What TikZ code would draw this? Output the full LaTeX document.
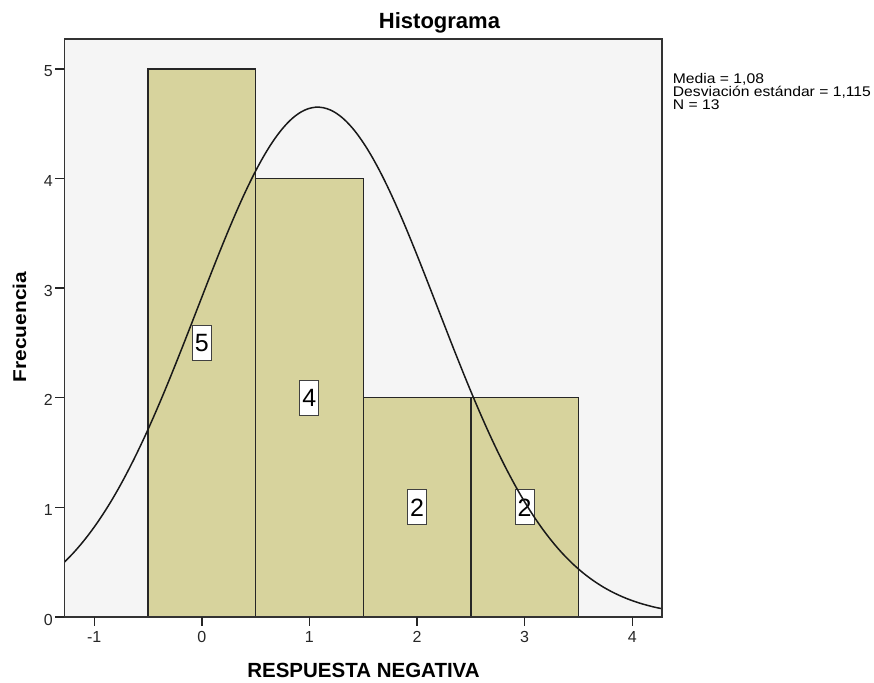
\documentclass[tikz,border=0pt]{standalone}
\usepackage{fontspec}
\setmainfont{Liberation Sans}
\newfontfamily\legendfont[FakeStretch=1.12]{Liberation Sans}
\newfontfamily\ylabfont[FakeStretch=1.13]{Liberation Sans}
\definecolor{barfill}{RGB}{215,211,157}
\definecolor{plotbg}{RGB}{245,245,245}
\begin{document}
\begin{tikzpicture}[x=1pt,y=1pt,
  bar/.style={draw=black!85, line width=1.4pt, fill=barfill},
  countlbl/.style={draw=black!75, fill=white, line width=1pt,
    font=\fontsize{25}{25}\selectfont, minimum width=19pt, minimum height=35pt, inner sep=0pt},
  ticklbl/.style={font=\fontsize{16}{16}\selectfont, inner sep=0pt, text=black!85},
  tickmark/.style={draw=black!85, line width=1.4pt},
  frame/.style={draw=black!80, line width=1.5pt},
  normcurve/.style={draw=black!90, line width=1.5pt}]
\useasboundingbox (0,0) rectangle (874,682);
\begin{scope}[shift={(201.8,65)}, x=107.6pt, y=109.6pt]
  \fill[plotbg] (-1.278,0) rectangle (4.277,5.274);
  \foreach \a/\h in {-0.5/5,0.5/4,1.5/2,2.5/2}
    \draw[bar] (\a,0) rectangle ++(1,\h);
  \node[countlbl] (c0) at (0,2.5) {5};
  \node[countlbl] (c1) at (1,2) {4};
  \node[countlbl] (c2) at (2,1) {2};
  \node[countlbl] (c3) at (3,1) {2};
  \begin{scope}
    \clip (-1.278,0) rectangle (4.277,5.274);
    \draw[normcurve] plot[domain=-1.3:4.3, samples=160, smooth]
      (\x, {4.651*exp(-((\x-1.0769)^2)/(2*1.115^2))});
  \end{scope}
  \draw[frame] (-1.278,0) rectangle (4.277,5.274);
  \foreach \v in {0,...,5} {
    \draw[tickmark] (-1.278,\v) -- ++(-9pt,0);
    \node[ticklbl, anchor=east, yshift=-2.5pt] (yl\v) at ([xshift=-11.3pt]-1.278,\v) {\v};
  }
  \foreach \v in {-1,...,4} {
    \draw[tickmark] (\v,0) -- ++(0,-9pt);
    \node[ticklbl, anchor=base] (xl\v) at ([yshift=-25.3pt]\v,0) {\v};
  }
\end{scope}
\node[font=\bfseries\fontsize{22}{22}\selectfont, anchor=base, inner sep=0pt] (title) at (439.5,653) {Histograma};
\node[font=\bfseries\fontsize{20.5}{20.5}\selectfont, anchor=base, inner sep=0pt] (xlab) at (363.5,4.7) {RESPUESTA NEGATIVA};
\node[font=\ylabfont\bfseries\fontsize{18.5}{18.5}\selectfont, anchor=base, rotate=90, inner sep=0pt] (ylab) at (26,355) {Frecuencia};
\node[font=\legendfont\fontsize{14}{11}\selectfont, anchor=north west, align=left, inner sep=0pt] (legend) at (672.7,609) {Media = 1,08\\Desviación estándar = 1,115\\N = 13};
\end{tikzpicture}
\end{document}
